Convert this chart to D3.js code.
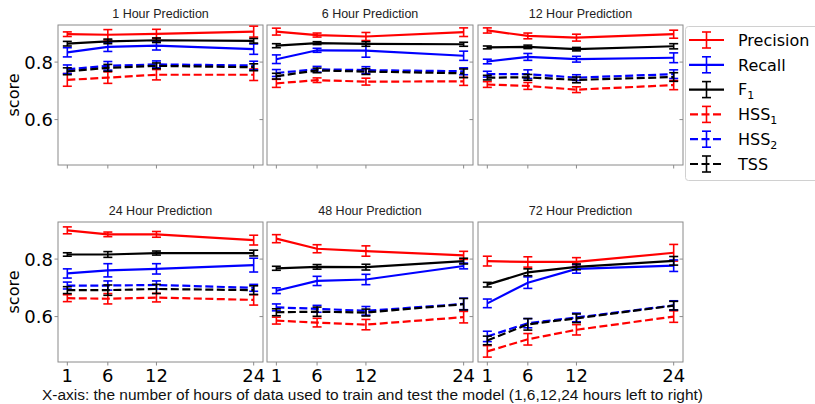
<!DOCTYPE html>
<html><head><meta charset="utf-8">
<script src="https://cdn.jsdelivr.net/npm/d3@7"></script>
<style>body{margin:0;background:#fff}svg{display:block}</style>
</head><body>
<svg id="c" width="815" height="404"></svg>
<script>
const hours = [1, 6, 12, 24];
const panelTitles = ["1 Hour Prediction","6 Hour Prediction","12 Hour Prediction","24 Hour Prediction","48 Hour Prediction","72 Hour Prediction"];
const yTicks = [0.6, 0.8];
const seriesNames = ["Precision","Recall","F1","HSS1","HSS2","TSS"];
const seriesColors = ["#ff0000","#0000ff","#000000","#ff0000","#0000ff","#000000"];
const seriesDashed = [false,false,false,true,true,true];

const precision = [
  [0.897,0.895,0.898,0.906],[0.906,0.894,0.889,0.904],[0.910,0.891,0.885,0.897],
  [0.900,0.886,0.886,0.866],[0.871,0.836,0.828,0.813],[0.793,0.790,0.790,0.822]];
const precisionErr = [
  [0.008,0.018,0.016,0.019],[0.012,0.007,0.014,0.015],[0.009,0.010,0.012,0.014],
  [0.012,0.008,0.010,0.017],[0.014,0.014,0.018,0.014],[0.017,0.018,0.015,0.029]];
const recall = [
  [0.834,0.853,0.857,0.845],[0.810,0.841,0.840,0.822],[0.802,0.818,0.810,0.815],
  [0.750,0.761,0.766,0.779],[0.690,0.724,0.729,0.776],[0.646,0.718,0.766,0.777]];
const recallErr = [
  [0.016,0.016,0.015,0.018],[0.015,0.007,0.023,0.016],[0.008,0.012,0.010,0.017],
  [0.016,0.023,0.018,0.024],[0.010,0.016,0.018,0.010],[0.015,0.020,0.015,0.020]];
const f1 = [
  [0.864,0.872,0.876,0.874],[0.857,0.866,0.863,0.862],[0.851,0.853,0.845,0.855],
  [0.816,0.816,0.821,0.821],[0.768,0.773,0.772,0.793],[0.711,0.754,0.773,0.794]];
const f1Err = [
  [0.008,0.008,0.008,0.008],[0.007,0.005,0.008,0.007],[0.005,0.006,0.006,0.009],
  [0.006,0.010,0.007,0.010],[0.007,0.008,0.010,0.010],[0.008,0.012,0.010,0.015]];
const hss1 = [
  [0.738,0.746,0.756,0.756],[0.726,0.737,0.732,0.733],[0.722,0.717,0.704,0.720],
  [0.664,0.662,0.666,0.658],[0.586,0.579,0.572,0.598],[0.479,0.521,0.554,0.600]];
const hss1Err = [
  [0.022,0.020,0.018,0.020],[0.014,0.008,0.012,0.014],[0.010,0.012,0.010,0.016],
  [0.012,0.018,0.015,0.018],[0.012,0.015,0.018,0.020],[0.020,0.020,0.018,0.020]];
const hss2 = [
  [0.775,0.787,0.792,0.788],[0.762,0.775,0.772,0.768],[0.758,0.758,0.746,0.758],
  [0.708,0.708,0.710,0.700],[0.632,0.627,0.620,0.644],[0.531,0.577,0.597,0.639]];
const hss2Err = [
  [0.015,0.015,0.012,0.015],[0.012,0.010,0.012,0.012],[0.010,0.015,0.010,0.015],
  [0.012,0.016,0.014,0.012],[0.012,0.012,0.015,0.020],[0.018,0.016,0.015,0.016]];
const tss = [
  [0.768,0.780,0.787,0.782],[0.751,0.771,0.767,0.761],[0.746,0.747,0.738,0.748],
  [0.692,0.692,0.696,0.692],[0.615,0.617,0.614,0.643],[0.517,0.573,0.594,0.638]];
const tssErr = [
  [0.012,0.012,0.010,0.012],[0.010,0.008,0.010,0.015],[0.008,0.010,0.010,0.015],
  [0.012,0.018,0.016,0.015],[0.012,0.016,0.012,0.020],[0.015,0.020,0.015,0.015]];

const allVals = [precision, recall, f1, hss1, hss2, tss];
const allErrs = [precisionErr, recallErr, f1Err, hss1Err, hss2Err, tssErr];

const svg = d3.select("#c");
const colX = [[58,263],[267,473],[478,683]];
const rowY = [[25,165],[222,362]];
const frameCol = "#8a8a8a";

for (let p = 0; p < 6; p++) {
  const col = p % 3, row = Math.floor(p / 3);
  const [x0, x1] = colX[col], [y0, y1] = rowY[row];
  const x = d3.scaleLinear().domain([-0.15, 25.15]).range([x0, x1]);
  const y = d3.scaleLinear().domain([0.442, 0.929]).range([y1, y0]);
  const g = svg.append("g");

  g.append("rect").attr("x", x0).attr("y", y0).attr("width", x1 - x0).attr("height", y1 - y0)
    .attr("fill", "none").attr("stroke", frameCol).attr("stroke-width", 1);

  g.selectAll(".xt").data(hours).enter().append("line")
    .attr("x1", d => x(d)).attr("x2", d => x(d)).attr("y1", y1).attr("y2", y1 + 3.5)
    .attr("stroke", frameCol).attr("stroke-width", 1);
  g.selectAll(".yr").data(yTicks).enter().append("line")
    .attr("x1", x1).attr("x2", x1 - 3.5).attr("y1", d => y(d)).attr("y2", d => y(d))
    .attr("stroke", frameCol).attr("stroke-width", 1);

  if (col === 0) {
    g.selectAll(".yl").data(yTicks).enter().append("line")
      .attr("x1", x0).attr("x2", x0 - 3.5).attr("y1", d => y(d)).attr("y2", d => y(d))
      .attr("stroke", frameCol).attr("stroke-width", 1);
    g.selectAll(".ylab").data(yTicks).enter().append("text")
      .attr("x", x0 - 5).attr("y", d => y(d)).attr("dy", "0.36em")
      .attr("text-anchor", "end").attr("font-family", "DejaVu Sans").attr("font-size", 18)
      .attr("fill", "#000").text(d => d3.format(".1f")(d));
    g.append("text").attr("transform", `translate(19,${(y0 + y1) / 2}) rotate(-90)`)
      .attr("text-anchor", "middle").attr("font-family", "DejaVu Sans").attr("font-size", 16)
      .text("score");
  }
  if (row === 1) {
    g.selectAll(".xlab").data(hours).enter().append("text")
      .attr("x", d => x(d)).attr("y", y1 + 20)
      .attr("text-anchor", "middle").attr("font-family", "DejaVu Sans").attr("font-size", 18)
      .text(d => d);
  }
  g.append("text").attr("x", (x0 + x1) / 2).attr("y", y0 - 7)
    .attr("text-anchor", "middle").attr("font-family", "Liberation Sans").attr("font-size", 12.5)
    .attr("fill", "#222").text(panelTitles[p]);

  for (let s = 0; s < 6; s++) {
    const vals = allVals[s][p], errs = allErrs[s][p];
    const pts = hours.map((h, i) => ({ h, v: vals[i], e: errs[i] }));
    const color = seriesColors[s];
    const line = d3.line().x(d => x(d.h)).y(d => y(d.v));
    g.append("path").datum(pts).attr("d", line).attr("fill", "none")
      .attr("stroke", color).attr("stroke-width", 2.2)
      .attr("stroke-dasharray", seriesDashed[s] ? "8,3.5" : null);
    const eb = g.selectAll(null).data(pts).enter().append("g");
    eb.append("line").attr("x1", d => x(d.h)).attr("x2", d => x(d.h))
      .attr("y1", d => y(d.v - d.e)).attr("y2", d => y(d.v + d.e))
      .attr("stroke", color).attr("stroke-width", 1.6);
    [-1, 1].forEach(sg => {
      eb.append("line").attr("x1", d => x(d.h) - 4.5).attr("x2", d => x(d.h) + 4.5)
        .attr("y1", d => y(d.v + sg * d.e)).attr("y2", d => y(d.v + sg * d.e))
        .attr("stroke", color).attr("stroke-width", 1.6);
    });
  }
}

const lg = svg.append("g");
lg.append("rect").attr("x", 685.5).attr("y", 26.5).attr("width", 140).attr("height", 154)
  .attr("rx", 3).attr("fill", "#fff").attr("stroke", "#d0d0d0").attr("stroke-width", 1);
seriesNames.forEach((name, i) => {
  const cy = 40 + i * 24.8;
  const color = seriesColors[i];
  lg.append("line").attr("x1", 689).attr("x2", 724).attr("y1", cy).attr("y2", cy)
    .attr("stroke", color).attr("stroke-width", 2.2)
    .attr("stroke-dasharray", seriesDashed[i] ? "8,3.5" : null)
    .attr("stroke-dashoffset", seriesDashed[i] ? -1 : null);
  lg.append("line").attr("x1", 706.5).attr("x2", 706.5).attr("y1", cy - 8).attr("y2", cy + 8)
    .attr("stroke", color).attr("stroke-width", 1.6);
  [-8, 8].forEach(o => lg.append("line").attr("x1", 702).attr("x2", 711)
    .attr("y1", cy + o).attr("y2", cy + o).attr("stroke", color).attr("stroke-width", 1.6));
  const t = lg.append("text").attr("x", 738).attr("y", cy).attr("dy", "0.36em")
    .attr("font-family", "DejaVu Sans").attr("font-size", 16).attr("fill", "#000");
  const m = name.match(/^(F|HSS)(\d)$/);
  if (m) {
    t.append("tspan").text(m[1]);
    t.append("tspan").attr("font-size", 11).attr("dy", 4).text(m[2]);
  } else t.text(name);
});

svg.append("text").attr("x", 42).attr("y", 400)
  .attr("font-family", "Liberation Sans").attr("font-size", 14).attr("fill", "#111")
  .attr("textLength", 661).attr("lengthAdjust", "spacingAndGlyphs")
  .text("X-axis: the number of hours of data used to train and test the model (1,6,12,24 hours left to right)");
</script>
</body></html>
